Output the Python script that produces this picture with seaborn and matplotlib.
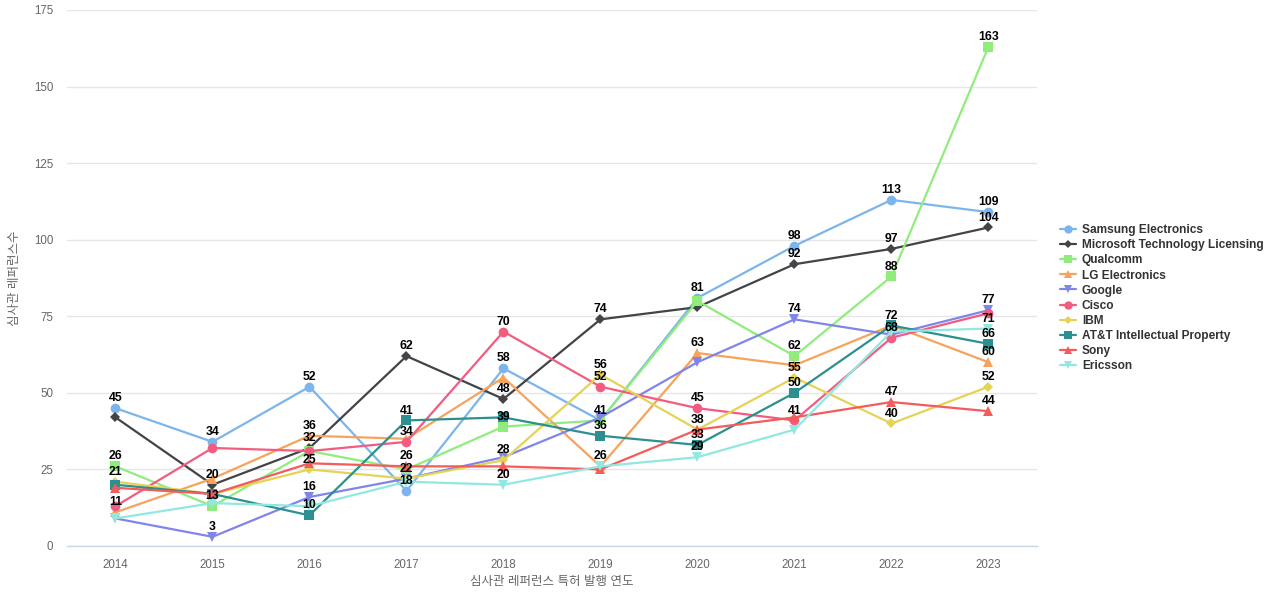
import matplotlib
matplotlib.use("Agg")
import matplotlib.pyplot as plt
import seaborn as sns
import pandas as pd
from matplotlib.lines import Line2D

years = [2014, 2015, 2016, 2017, 2018, 2019, 2020, 2021, 2022, 2023]
companies = ["Samsung Electronics", "Microsoft Technology Licensing", "Qualcomm",
             "LG Electronics", "Google", "Cisco", "IBM",
             "AT&T Intellectual Property", "Sony", "Ericsson"]

samsung   = [45, 34, 52, 18, 58, 41, 81, 98, 113, 109]
microsoft = [42, 20, 32, 62, 48, 74, 78, 92, 97, 104]
qualcomm  = [26, 13, 31, 25, 39, 41, 80, 62, 88, 163]
lg        = [11, 22, 36, 35, 55, 26, 63, 59, 72, 60]
google    = [9, 3, 16, 22, 29, 42, 60, 74, 69, 77]
cisco     = [13, 32, 31, 34, 70, 52, 45, 41, 68, 76]
ibm       = [21, 17, 25, 22, 28, 56, 38, 55, 40, 52]
att       = [20, 17, 10, 41, 42, 36, 33, 50, 72, 66]
sony      = [19, 17, 27, 26, 26, 25, 38, 42, 47, 44]
ericsson  = [9, 14, 13, 21, 20, 26, 29, 38, 70, 71]

# years whose value label is visible in the reference
labeled_years = {
    "Samsung Electronics": [2014, 2015, 2016, 2017, 2018, 2019, 2020, 2021, 2022, 2023],
    "Microsoft Technology Licensing": [2015, 2016, 2017, 2018, 2019, 2021, 2022, 2023],
    "Qualcomm": [2014, 2015, 2018, 2021, 2022, 2023],
    "LG Electronics": [2014, 2016, 2020, 2023],
    "Google": [2015, 2016, 2021, 2023],
    "Cisco": [2017, 2018, 2019, 2020, 2021, 2022],
    "IBM": [2014, 2016, 2017, 2018, 2019, 2021, 2022, 2023],
    "AT&T Intellectual Property": [2016, 2017, 2019, 2020, 2021, 2022, 2023],
    "Sony": [2017, 2020, 2022, 2023],
    "Ericsson": [2018, 2019, 2020, 2023],
}

series = [samsung, microsoft, qualcomm, lg, google, cisco, ibm, att, sony, ericsson]
colors = ["#7cb5ec", "#434348", "#90ed7d", "#f7a35c", "#8085e9",
          "#f15c80", "#e4d354", "#2b908f", "#f45b5b", "#91e8e1"]
markers = ["o", "D", "s", "^", "v", "o", "D", "s", "^", "v"]
msizes = [7, 5, 7, 7, 7, 7, 5, 7, 7, 7]

rows = []
for c, vals in zip(companies, series):
    for y, v in zip(years, vals):
        rows.append({"year": y, "company": c, "value": v})
df = pd.DataFrame(rows)

sns.set_theme(style="white")
plt.rcParams["font.family"] = ["Liberation Sans", "Noto Sans CJK KR", "DejaVu Sans"]

fig = plt.figure(figsize=(12.8, 6), dpi=100)
ax = fig.add_axes([67 / 1280, 54 / 600, (1037 - 67) / 1280, (546 - 10) / 600])

for i, c in enumerate(companies):
    sub = df[df.company == c]
    sns.lineplot(data=sub, x="year", y="value", color=colors[i], marker=markers[i],
                 markersize=msizes[i], markeredgewidth=0, linewidth=1.6, ax=ax,
                 legend=False, zorder=3 + i)

for i, c in enumerate(companies):
    sub = df[df.company == c]
    for _, r in sub.iterrows():
        if r.year in labeled_years[c]:
            ax.annotate(str(int(r.value)), (r.year, r.value), xytext=(0, 2.8),
                        textcoords="offset points", ha="center", va="bottom",
                        fontsize=8.8, fontweight="bold", color="#000000", zorder=20)

ax.set_xlim(2013.5, 2023.5)
ax.set_ylim(0, 175)
ax.set_xticks(years)
ax.set_xticklabels([str(y) for y in years])
ax.set_yticks(range(0, 176, 25))
ax.grid(axis="y", color="#e6e6e6", linewidth=1)
ax.grid(axis="x", visible=False)
for s in ["top", "right", "left"]:
    ax.spines[s].set_visible(False)
ax.spines["bottom"].set_color("#ccd6eb")
ax.spines["bottom"].set_linewidth(1)
ax.tick_params(axis="both", length=0, labelsize=8.3, labelcolor="#666666")
ax.tick_params(axis="x", pad=9)
ax.tick_params(axis="y", pad=10)
ax.set_xlabel("심사관 레퍼런스 특허 발행 연도", fontsize=9, color="#666666", labelpad=4)
ax.set_ylabel("심사관 레퍼런스수", fontsize=9, color="#666666", labelpad=9)

handles = [Line2D([0], [0], color=colors[i], marker=markers[i], markersize=msizes[i] - 1,
                  markeredgewidth=0, linewidth=1.6) for i in range(len(companies))]
leg = fig.legend(handles, companies, loc="center left", bbox_to_anchor=(1049 / 1280, 0.503),
                 frameon=False, handlelength=1.4, handletextpad=0.45, labelspacing=0.26,
                 prop={"size": 8.6, "weight": "bold"})
for t in leg.get_texts():
    t.set_color("#333333")

fig.savefig("out.png", dpi=100)
